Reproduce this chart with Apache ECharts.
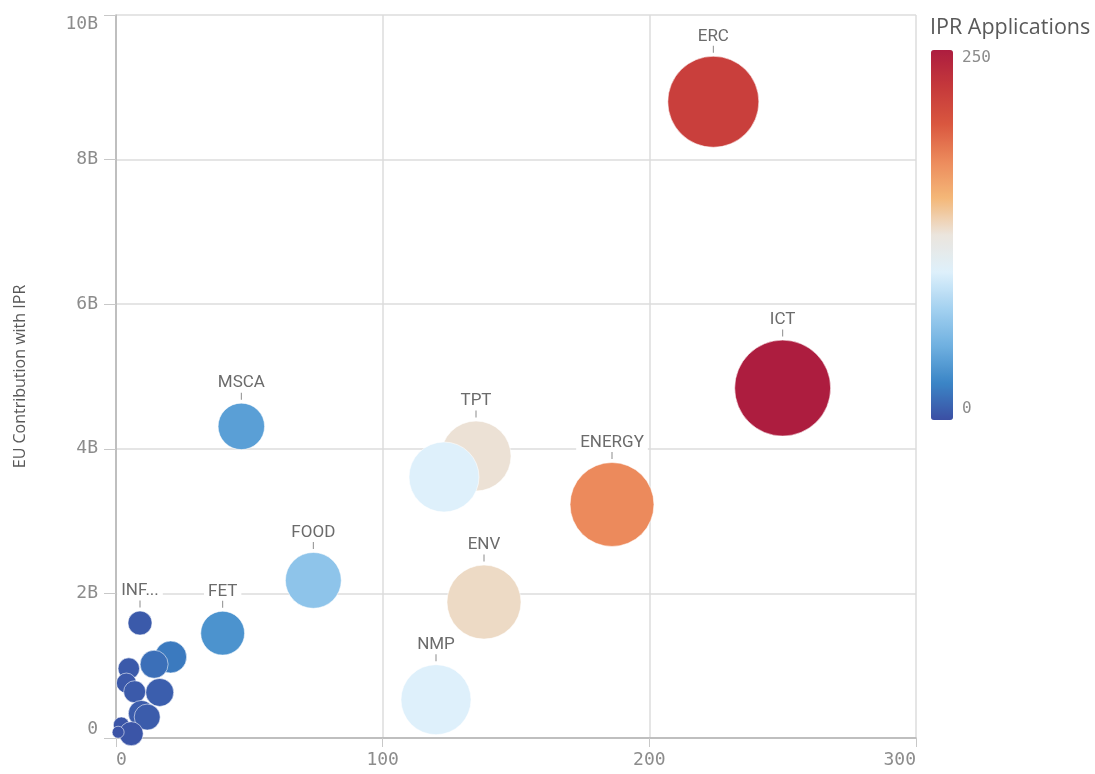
<!DOCTYPE html>
<html>
<head>
<meta charset="utf-8">
<title>IPR bubble chart</title>
<script src="https://cdn.jsdelivr.net/npm/echarts@6/dist/echarts.min.js"></script>
<style>
    html, body { margin: 0; padding: 0; background: #fff; }
    #chart { width: 1095px; height: 774px; }
</style>
</head>
<body>
<div id="chart"></div>
<script>
// programme areas (draw order matters: later ones sit on top)
const names = ['ERC', 'ICT', 'ENERGY', 'TPT', 'HEALTH', 'ENV', 'NMP', 'MSCA', 'FOOD', 'FET', 'INFRA',
    'SPACE', 'SEC', 'SME', 'SSH', 'INCO', 'SiS', 'REGIONS', 'POTENTIAL', 'COH', 'GA', 'JTI'];
// label shown above the bubble ('' = hidden)
const labels = ['ERC', 'ICT', 'ENERGY', 'TPT', '', 'ENV', 'NMP', 'MSCA', 'FOOD', 'FET', 'INF...',
    '', '', '', '', '', '', '', '', '', '', ''];
// x: number of projects with IPR
const projects = [224, 250, 186, 135, 123, 138, 120, 47, 74, 40, 9,
    20.5, 14.3, 4.8, 3.9, 7.0, 16.4, 9.5, 11.7, 2.0, 5.7, 0.8];
// y: EU contribution with IPR, in billions
const contribution = [8.80, 4.84, 3.23, 3.90, 3.61, 1.88, 0.53, 4.31, 2.18, 1.45, 1.59,
    1.12, 1.02, 0.96, 0.76, 0.64, 0.63, 0.34, 0.29, 0.18, 0.06, 0.08];
// bubble size measure
const participants = [2070, 2300, 1760, 1225, 1225, 1370, 1225, 540, 780, 480, 144,
    256, 196, 115, 100, 121, 196, 169, 169, 64, 144, 36];
// colour measure: IPR applications
const iprApps = [220, 250, 175, 127, 100, 131, 100, 40, 65, 33, 5,
    20, 15, 5, 4, 5, 7, 6, 6, 3, 3, 2];

const xTicks = [0, 100, 200, 300];
const yTicks = [0, 2, 4, 6, 8, 10];

const monoFont = 'DejaVu Sans Mono';
const textFont = 'Open Sans';

let data = names.map((n, i) => ({
    name: n,
    value: [projects[i], contribution[i], participants[i], iprApps[i]],
    label: {
        show: labels[i] !== '',
        formatter: '{n|' + labels[i] + '}\n{t| }'
    }
}));

let chart = echarts.init(document.getElementById('chart'));
chart.setOption({
    animation: false,
    grid: {
        left: 116,
        right: 179,
        top: 15,
        bottom: 36
    },
    xAxis: {
        type: 'value',
        min: xTicks[0],
        max: xTicks[xTicks.length - 1],
        interval: 100,
        axisLine: { show: true, lineStyle: { color: '#b3b3b3', width: 1.5 } },
        axisTick: { show: true, length: 9, lineStyle: { color: '#c8c8c8' } },
        splitLine: { show: true, lineStyle: { color: '#dcdcdc', width: 1.5 } },
        axisLabel: {
            color: '#8c8c8c',
            fontFamily: monoFont,
            fontSize: 18,
            margin: 13,
            alignMinLabel: 'left',
            alignMaxLabel: 'right'
        }
    },
    yAxis: {
        type: 'value',
        min: yTicks[0],
        max: yTicks[yTicks.length - 1],
        interval: 2,
        name: 'EU Contribution with IPR',
        nameLocation: 'middle',
        nameGap: 88,
        nameTextStyle: { color: '#595959', fontFamily: textFont, fontSize: 16 },
        axisLine: { show: true, lineStyle: { color: '#b3b3b3', width: 1.5 } },
        axisTick: { show: true, length: 12, lineStyle: { color: '#c8c8c8' } },
        splitLine: { show: true, lineStyle: { color: '#dcdcdc', width: 1.5 } },
        axisLabel: {
            color: '#8c8c8c',
            fontFamily: monoFont,
            fontSize: 18,
            margin: 18,
            verticalAlignMinLabel: 'bottom',
            verticalAlignMaxLabel: 'top',
            formatter: v => v === 0 ? '0' : v + 'B'
        }
    },
    visualMap: {
        type: 'continuous',
        dimension: 3,
        min: 0,
        max: 250,
        orient: 'vertical',
        left: 931,
        top: 50,
        padding: 0,
        itemWidth: 22,
        itemHeight: 370,
        calculable: false,
        showLabel: false,
        inRange: {
            color: ['#3b4fa3', '#3b85c6', '#6fb0e0', '#a3d1f0', '#def0fb', '#ebe5dd',
                '#f4b778', '#ec8a5c', '#d9573f', '#c5393b', '#ad1d3f']
        }
    },
    graphic: [
        {
            type: 'text', left: 930, top: 17,
            style: { text: 'IPR Applications', fill: '#595959', font: '21.5px "Open Sans"' }
        },
        {
            type: 'text', left: 962, top: 50,
            style: { text: '250', fill: '#8c8c8c', font: '16px "DejaVu Sans Mono"' }
        },
        {
            type: 'text', left: 962, top: 401,
            style: { text: '0', fill: '#8c8c8c', font: '16px "DejaVu Sans Mono"' }
        }
    ],
    series: [{
        type: 'scatter',
        data: data,
        symbolSize: v => 2 * Math.sqrt(v[2]),
        itemStyle: {
            opacity: 1,
            borderColor: 'rgba(255,255,255,0.55)',
            borderWidth: 1
        },
        label: {
            position: 'top',
            distance: 3,
            rich: {
                n: {
                    color: '#6b6b6b',
                    fontFamily: 'Roboto',
                    fontSize: 17,
                    backgroundColor: '#ffffff',
                    padding: [0, 4],
                    lineHeight: 19,
                    align: 'center'
                },
                t: {
                    width: 1,
                    height: 7,
                    fontSize: 1,
                    lineHeight: 7,
                    backgroundColor: '#8c8c8c',
                    align: 'center'
                }
            }
        },
        emphasis: { disabled: true }
    }]
});
</script>
</body>
</html>
